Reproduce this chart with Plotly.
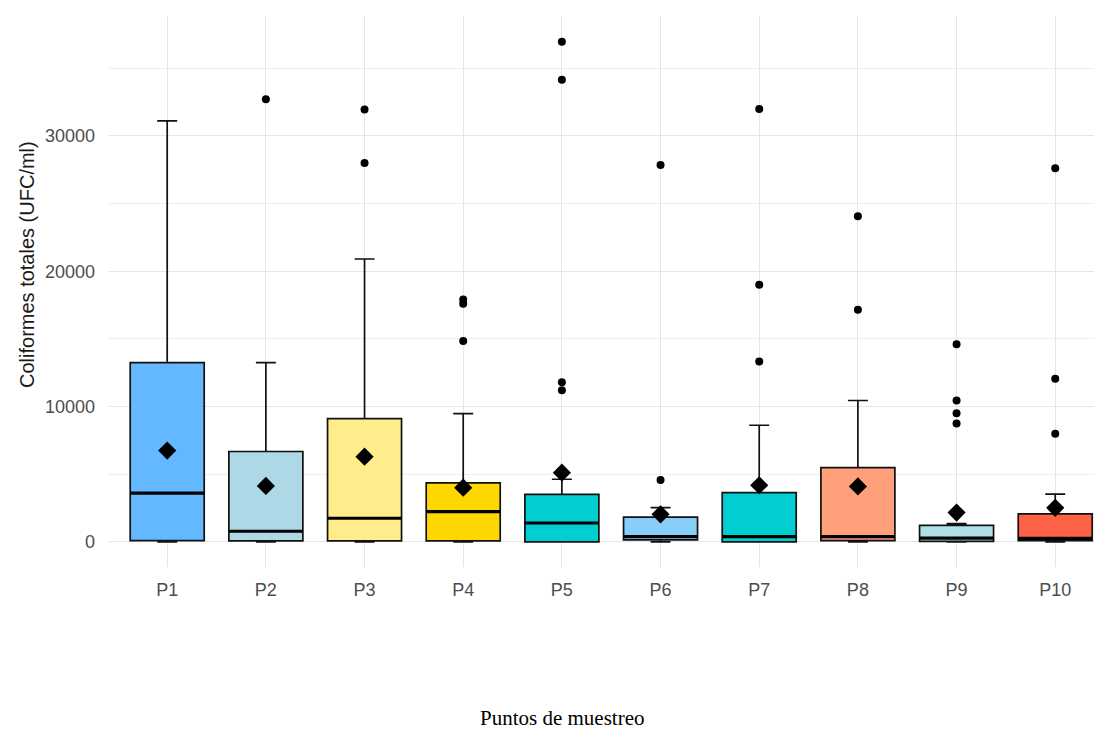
import plotly.graph_objects as go

labels = ["P1", "P2", "P3", "P4", "P5", "P6", "P7", "P8", "P9", "P10"]
positions = [1, 2, 3, 4, 5, 6, 7, 8, 9, 10]
lower_whisker = [0, 0, 0, 0, 0, 0, 0, 0, 0, 0]
q1 = [100, 80, 80, 80, 0, 150, 0, 100, 50, 100]
medians = [3600, 790, 1750, 2240, 1400, 390, 390, 390, 280, 270]
q3 = [13250, 6680, 9110, 4360, 3520, 1830, 3650, 5490, 1230, 2070]
upper_whisker = [31100, 13250, 20900, 9480, 4630, 2530, 8620, 10450, 1350, 3530]
means = [6750, 4140, 6300, 4010, 5120, 2040, 4190, 4100, 2170, 2520]
outliers = [
    [],
    [32700],
    [31950, 28000],
    [17900, 17600, 14850],
    [36950, 34150, 11800, 11200],
    [27850, 4580],
    [31980, 19000, 13330],
    [24050, 17150],
    [14600, 10450, 9500, 8750],
    [27600, 12050, 8000],
]
colors = ["#63B8FF", "#ADD8E6", "#FFEC8B", "#FFD700", "#00CED1",
          "#87CEFA", "#00CED1", "#FFA07A", "#B0E0E6", "#FF6347"]
y_tickvals = [0, 10000, 20000, 30000]
y_ticktext = ["0", "10000", "20000", "30000"]

BOX_W = 0.75
fig = go.Figure()

for i, lab in enumerate(labels):
    fig.add_trace(go.Box(
        x=[positions[i]], q1=[q1[i]], median=[medians[i]], q3=[q3[i]],
        lowerfence=[lower_whisker[i]], upperfence=[upper_whisker[i]],
        width=BOX_W, whiskerwidth=0.27, fillcolor=colors[i],
        line=dict(color="#111111", width=1.7), name=lab, boxpoints=False,
        hoverinfo="skip",
    ))
    # thicker median line
    fig.add_trace(go.Scatter(
        x=[positions[i] - BOX_W / 2, positions[i] + BOX_W / 2],
        y=[medians[i], medians[i]], mode="lines",
        line=dict(color="black", width=3.2), hoverinfo="skip",
    ))

# outliers
ox, oy = [], []
for i, vals in enumerate(outliers):
    for v in vals:
        ox.append(positions[i])
        oy.append(v)
fig.add_trace(go.Scatter(x=ox, y=oy, mode="markers",
                         marker=dict(color="black", size=8, symbol="circle")))

# means
fig.add_trace(go.Scatter(x=positions, y=means, mode="markers",
                         marker=dict(color="black", size=14, symbol="diamond")))

grid = "#E6E6E6"
fig.update_layout(
    width=1102, height=731,
    margin=dict(l=100, r=8, t=8, b=172),
    plot_bgcolor="white", paper_bgcolor="white",
    showlegend=False,
    xaxis=dict(
        range=[0.4, 10.474], tickmode="array", tickvals=positions, ticktext=labels,
        showgrid=True, gridcolor=grid, gridwidth=1, zeroline=False, showline=False,
        tickfont=dict(family="Liberation Sans, Arial", size=18, color="#4D4D4D"),
        ticks="", ticklabelstandoff=10,
    ),
    yaxis=dict(
        range=[-1850, 38850], tickmode="array", tickvals=y_tickvals, ticktext=y_ticktext,
        showgrid=True, gridcolor=grid, gridwidth=1, zeroline=False, showline=False,
        tickfont=dict(family="Liberation Sans, Arial", size=18, color="#4D4D4D"),
        ticks="", ticklabelstandoff=12,
        minor=dict(tickmode="array", tickvals=[5000, 15000, 25000, 35000],
                   showgrid=True, gridcolor="#EEEEEE", gridwidth=1),
    ),
    annotations=[
        dict(text="Coliformes totales (UFC/ml)", textangle=-90,
             xref="paper", yref="paper", x=(27 - 108) / 994, y=(567 - 265) / 551,
             xanchor="center", yanchor="middle", showarrow=False,
             font=dict(family="Liberation Sans, Arial", size=20, color="#1a1a1a")),
        dict(text="Puntos de muestreo",
             xref="paper", yref="paper", x=(562 - 108) / 994, y=(567 - 718) / 551,
             xanchor="center", yanchor="middle", showarrow=False,
             font=dict(family="Liberation Serif, Times New Roman", size=21, color="black")),
    ],
)

fig.write_html("out.html")
